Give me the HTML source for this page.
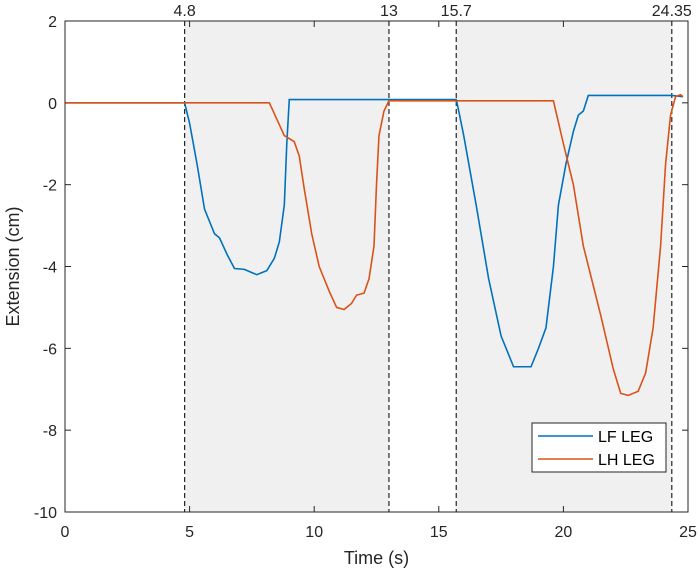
<!DOCTYPE html>
<html><head><meta charset="utf-8"><style>body{margin:0;background:#fff}svg{display:block;font-family:"Liberation Sans",Arial,sans-serif}</style></head>
<body>
<svg id="chart" width="700" height="575"></svg>
<script>
const xTicks=[0,5,10,15,20,25];
const yTicks=[2,0,-2,-4,-6,-8,-10];
const markers=[4.8,13,15.7,24.35];
const markerLabels=["4.8","13","15.7","24.35"];
const shaded=[[4.8,13],[15.7,24.35]];
const lfT=[0,4.8,5.0,5.3,5.6,6.0,6.2,6.5,6.8,7.2,7.5,7.7,7.9,8.1,8.4,8.6,8.8,8.9,9.0,15.7,15.8,16.0,16.5,17,17.5,18,18.7,19,19.3,19.6,19.8,20.1,20.4,20.6,20.8,21.0,24.35,24.8];
const lfV=[0,0,-0.5,-1.5,-2.6,-3.2,-3.3,-3.7,-4.05,-4.07,-4.15,-4.2,-4.15,-4.1,-3.8,-3.4,-2.5,-1.0,0.08,0.08,-0.2,-0.8,-2.5,-4.3,-5.7,-6.45,-6.45,-6.0,-5.5,-4.0,-2.5,-1.5,-0.7,-0.3,-0.2,0.18,0.18,0.15];
const lhT=[0,8.2,8.5,8.8,9.2,9.4,9.6,9.9,10.2,10.6,10.9,11.2,11.5,11.7,12.0,12.2,12.4,12.5,12.6,12.8,13.0,19.6,20.0,20.4,20.8,21.5,22.0,22.3,22.6,23.0,23.3,23.6,23.9,24.1,24.3,24.5,24.7,24.8];
const lhV=[0,0,-0.4,-0.8,-0.95,-1.3,-2.1,-3.2,-4.0,-4.6,-5.0,-5.05,-4.9,-4.7,-4.65,-4.3,-3.5,-2.0,-0.8,-0.2,0.05,0.05,-1.0,-2.0,-3.5,-5.2,-6.5,-7.1,-7.15,-7.05,-6.6,-5.5,-3.5,-1.5,-0.3,0.15,0.2,0.15];
const L=65,R=688,T=21,B=512;
const X=v=>L+(v-0)/25*(R-L), Y=v=>T+(2-v)/12*(B-T);
const svg=document.getElementById('chart'),NS='http://www.w3.org/2000/svg';
function mk(tag,attrs,txt){const e=document.createElementNS(NS,tag);for(const k in attrs)e.setAttribute(k,attrs[k]);if(txt!=null)e.textContent=txt;svg.appendChild(e);return e;}
shaded.forEach(s=>{const e=mk('rect',{x:X(s[0]),y:T,width:X(s[1])-X(s[0]),height:B-T,fill:'#f0f0f0'});

});
xTicks.forEach(t=>{mk('line',{x1:X(t),x2:X(t),y1:B,y2:B-6,stroke:'#262626'});mk('line',{x1:X(t),x2:X(t),y1:T,y2:T+6,stroke:'#262626'});
const e=mk('text',{x:X(t),y:B+25,'text-anchor':'middle','font-size':16,fill:'#262626'},t);

});
yTicks.forEach(t=>{mk('line',{x1:L,x2:L+6,y1:Y(t),y2:Y(t),stroke:'#262626'});mk('line',{x1:R,x2:R-6,y1:Y(t),y2:Y(t),stroke:'#262626'});
const e=mk('text',{x:L-8,y:Y(t)+6,'text-anchor':'end','font-size':16,fill:'#262626'},t);

});
markers.forEach((m,i)=>{const l=mk('line',{x1:X(m),x2:X(m),y1:T,y2:B,stroke:'#262626','stroke-dasharray':'5,3','stroke-width':1.2});


const e=mk('text',{x:X(m),y:T-5,'text-anchor':'middle','font-size':16,fill:'#262626'},markerLabels[i]);

});
function line(ts,vs,c,n){const p=mk('polyline',{points:ts.map((t,i)=>X(t)+','+Y(vs[i])).join(' '),fill:'none',stroke:c,'stroke-width':1.6});

}
line(lfT,lfV,'#0072bd','lf-leg-line');
line(lhT,lhV,'#d95319','lh-leg-line');
mk('rect',{x:L,y:T,width:R-L,height:B-T,fill:'none',stroke:'#262626'});
const xt=mk('text',{x:(L+R)/2,y:B+52,'text-anchor':'middle','font-size':18,fill:'#262626'},'Time (s)');


const yt=mk('text',{x:0,y:0,transform:`translate(19,${(T+B)/2}) rotate(-90)`,'text-anchor':'middle','font-size':18,fill:'#262626'},'Extension (cm)');


const lg=mk('rect',{x:532,y:423,width:134,height:49,fill:'#fff',stroke:'#262626'});


mk('line',{x1:538,x2:593,y1:436,y2:436,stroke:'#0072bd','stroke-width':1.6});
mk('line',{x1:538,x2:593,y1:459,y2:459,stroke:'#d95319','stroke-width':1.6});
const l1=mk('text',{x:598,y:442,'font-size':16,fill:'#000'},'LF LEG');


const l2=mk('text',{x:598,y:465,'font-size':16,fill:'#000'},'LH LEG');


</script>
</body></html>
